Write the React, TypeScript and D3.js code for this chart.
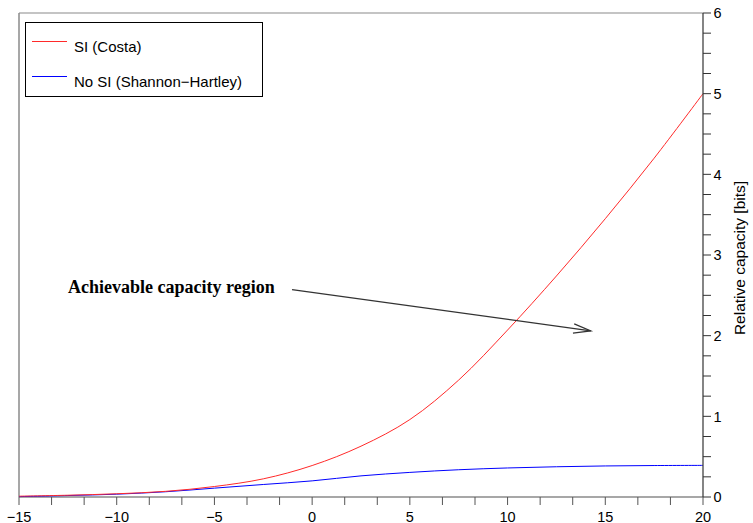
import React from "react";
import * as d3 from "d3";

const xValues = [-15, -12.5, -10, -7.5, -5, -2.5, 0, 2.5, 5, 7.5, 10, 12.5, 15, 17.5, 20];
const siCosta = [0.01, 0.022, 0.04, 0.07, 0.13, 0.225, 0.39, 0.63, 0.96, 1.45, 2.07, 2.74, 3.45, 4.2, 5.0];
const noSiShannon = [0.005, 0.018, 0.035, 0.065, 0.11, 0.155, 0.2, 0.262, 0.305, 0.338, 0.36, 0.375, 0.385, 0.39, 0.392];
const xTickLabels = [-15, -10, -5, 0, 5, 10, 15, 20];
const yTickLabels = [0, 1, 2, 3, 4, 5, 6];
const seriesNames = ["SI (Costa)", "No SI (Shannon\u2212Hartley)"];
const annotationText = "Achievable capacity region";
const arrowFrom = [-1.03, 2.57];
const arrowTo = [14.26, 2.06];
const textAt = [-12.49, 2.53];

const W = 753, H = 523;
const L = 19, R = 703, T = 13, B = 497;

export default function App() {
  const x = d3.scaleLinear().domain([-15, 20]).range([L, R]);
  const y = d3.scaleLinear().domain([0, 6]).range([B, T]);
  const line = d3
    .line<number>()
    .x((_, i) => x(xValues[i]))
    .y((d) => y(d))
    .curve(d3.curveCatmullRom.alpha(0.5));

  const xMinor = d3.range(0, 22).map((i) => -15 + (i * 5) / 3);
  const yMinor = d3.range(0, 25).map((i) => i * 0.25);

  const ax = x(arrowFrom[0]), ay = y(arrowFrom[1]);
  const bx = x(arrowTo[0]), by = y(arrowTo[1]);
  const ang = Math.atan2(by - ay, bx - ax);
  const hl = 18, hw = 0.26;
  const w1 = [bx - hl * Math.cos(ang - hw), by - hl * Math.sin(ang - hw)];
  const w2 = [bx - hl * Math.cos(ang + hw), by - hl * Math.sin(ang + hw)];

  const sans = "'Liberation Sans', Arial, sans-serif";

  return (
    <svg
      width={W}
      height={H}
      style={{ position: "absolute", left: 0, top: 0, background: "#fff" }}
      fontFamily={sans}
    >
      <rect x={0} y={0} width={W} height={H} fill="#fff" />
      {/* frame */}
      <line x1={L} y1={T} x2={R} y2={T} stroke="#8a8a8a" strokeWidth={1.2} />
      <line x1={L} y1={T} x2={L} y2={B} stroke="#8a8a8a" strokeWidth={1.5} />
      <line x1={L} y1={B} x2={R} y2={B} stroke="#8a8a8a" strokeWidth={1.5} />

      {/* series */}
      <path d={line(noSiShannon) || ""} fill="none" stroke="#0000ff" strokeWidth={1} />
      <path d={line(siCosta) || ""} fill="none" stroke="#ff2a2a" strokeWidth={1} />

      {/* bottom ticks */}
      {xMinor.map((v, i) => (
        <line key={"xt" + i} x1={x(v)} x2={x(v)} y1={B} y2={B + 8} stroke="#555" strokeWidth={1} />
      ))}
      {xTickLabels.map((v) => (
        <text key={"xl" + v} x={x(v)} y={521.5} textAnchor="middle" fontSize={14.5} fill="#000">
          {v < 0 ? "\u2212" + Math.abs(v) : String(v)}
        </text>
      ))}

      {/* right axis */}
      <line x1={R} y1={T} x2={R} y2={B} stroke="#333" strokeWidth={1.2} />
      {yMinor.map((v, i) => (
        <line key={"yt" + i} x1={R} x2={R + 8} y1={y(v)} y2={y(v)} stroke="#333" strokeWidth={1} />
      ))}
      {yTickLabels.map((v) => (
        <text key={"yl" + v} x={713.5} y={y(v)} dy="0.36em" fontSize={14.5} fill="#000">
          {v}
        </text>
      ))}
      <text
        transform={`translate(745, 258) rotate(-90)`}
        textAnchor="middle"
        fontSize={15.5}
        fill="#000"
      >
        Relative capacity [bits]
      </text>

      {/* legend */}
      <rect x={25.5} y={22.5} width={237} height={74} fill="#fff" stroke="#000" strokeWidth={1} />
      <line x1={32} x2={67} y1={41.5} y2={41.5} stroke="#ff2a2a" strokeWidth={1} />
      <text x={74} y={51.5} fontSize={15} fill="#000">{seriesNames[0]}</text>
      <line x1={32} x2={67} y1={76.5} y2={76.5} stroke="#0000ff" strokeWidth={1} />
      <text x={74} y={86.5} fontSize={15} fill="#000">{seriesNames[1]}</text>

      {/* annotation */}
      <text
        x={x(textAt[0])}
        y={y(textAt[1])}
        fontFamily="'Liberation Serif', 'Times New Roman', serif"
        fontWeight="bold"
        fontSize={18}
        fill="#000"
      >
        {annotationText}
      </text>
      <line x1={ax} y1={ay} x2={bx} y2={by} stroke="#333" strokeWidth={1.2} />
      <polyline
        points={`${w1[0]},${w1[1]} ${bx},${by} ${w2[0]},${w2[1]}`}
        fill="none"
        stroke="#333"
        strokeWidth={1.2}
      />
    </svg>
  );
}
